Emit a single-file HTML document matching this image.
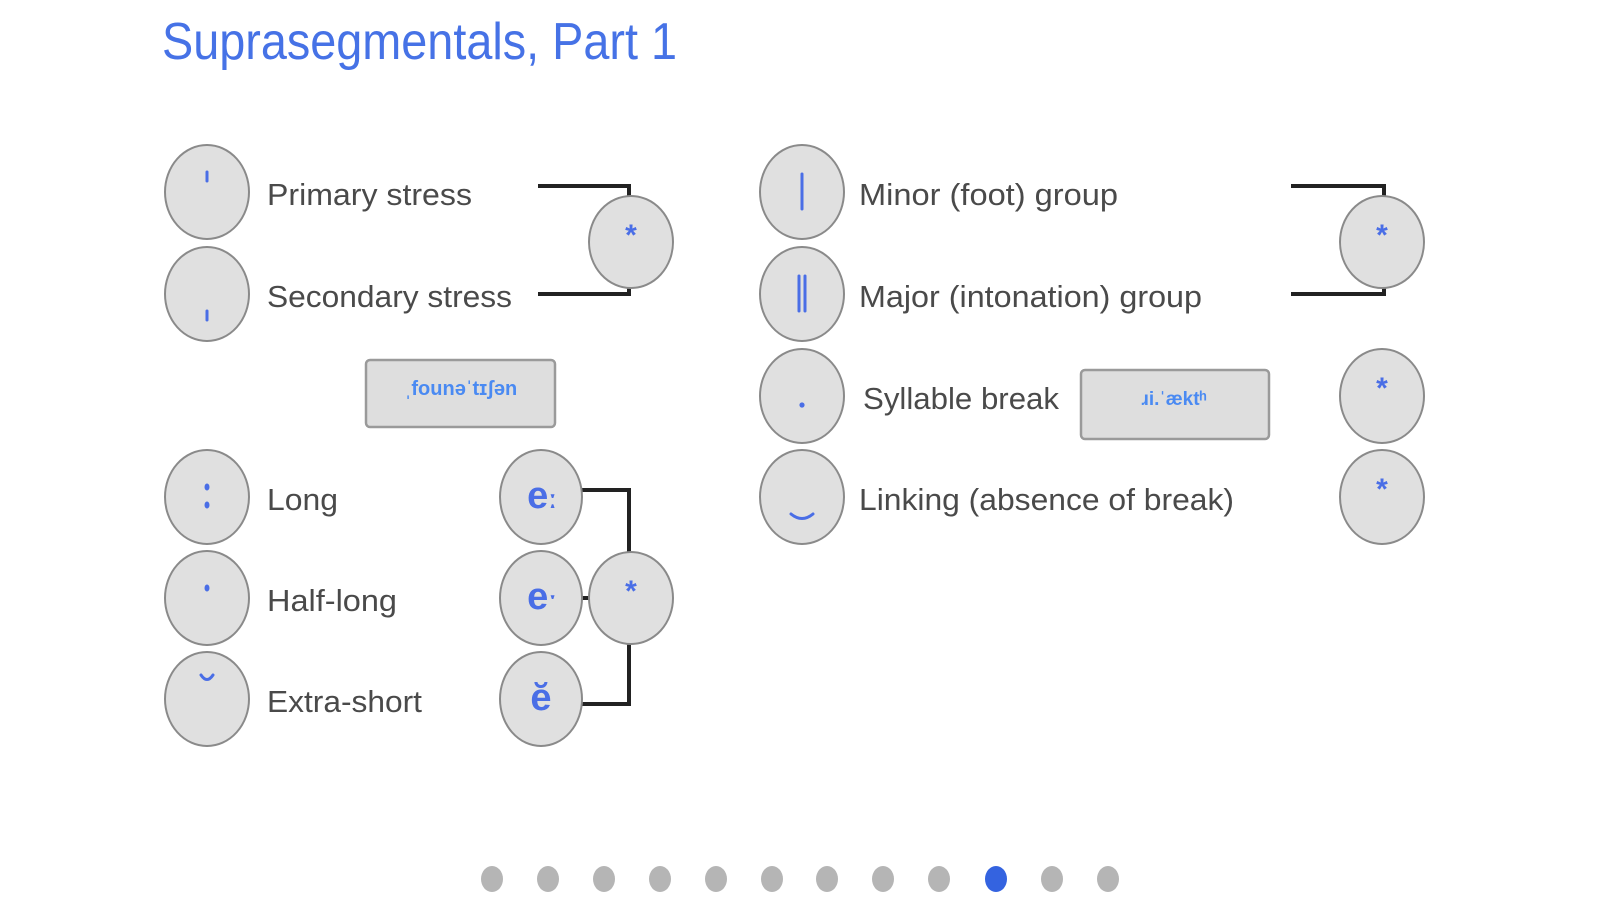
<!DOCTYPE html>
<html>
<head>
<meta charset="utf-8">
<style>
  html, body { margin: 0; padding: 0; background: #ffffff; }
  body { width: 1599px; height: 900px; overflow: hidden; }
  svg { display: block; }
  .c { fill: #e0e0e0; stroke: #8a8a8a; stroke-width: 2; }
  .lbl { font-family: "Liberation Sans", "DejaVu Sans", sans-serif; font-size: 31px; fill: #4a4a4a; }
  .sym { fill: none; stroke: #4a6ee6; stroke-width: 3; stroke-linecap: round; }
  .e { font-family: "Liberation Sans", "DejaVu Sans", sans-serif; font-size: 38px; font-weight: bold; fill: #4a6ee6; }
  .st { font-family: "Liberation Sans", "DejaVu Sans", sans-serif; font-size: 30px; font-weight: bold; fill: #4a6ee6; }
  .br { fill: none; stroke: #222222; stroke-width: 4; }
  .bx { fill: #dedede; stroke: #9a9a9a; stroke-width: 2.5; }
  .bt { font-family: "Liberation Sans", "DejaVu Sans", sans-serif; font-weight: bold; fill: #4a8af2; }
</style>
</head>
<body>
<svg width="1599" height="900" viewBox="0 0 1599 900" xmlns="http://www.w3.org/2000/svg">
  <rect width="1599" height="900" fill="#ffffff"/>

  <!-- Title -->
  <text x="162" y="59" font-family="Liberation Sans, DejaVu Sans, sans-serif" font-size="52" fill="#4672e6" textLength="515" lengthAdjust="spacingAndGlyphs">Suprasegmentals, Part 1</text>

  <!-- Left column circles -->
  <ellipse class="c" cx="207" cy="192" rx="42" ry="47"/>
  <ellipse class="c" cx="207" cy="294" rx="42" ry="47"/>
  <ellipse class="c" cx="207" cy="497" rx="42" ry="47"/>
  <ellipse class="c" cx="207" cy="598" rx="42" ry="47"/>
  <ellipse class="c" cx="207" cy="699" rx="42" ry="47"/>

  <!-- Left symbols -->
  <line class="sym" x1="207" y1="172" x2="207" y2="181"/>
  <line class="sym" x1="207" y1="311" x2="207" y2="320"/>
  <ellipse cx="207" cy="487" rx="2.5" ry="3.5" fill="#4a6ee6"/>
  <ellipse cx="207" cy="505" rx="2.5" ry="3.5" fill="#4a6ee6"/>
  <ellipse cx="207" cy="588" rx="2.5" ry="3.5" fill="#4a6ee6"/>
  <path class="sym" d="M201 675 Q207 684 213 675"/>

  <!-- Left labels -->
  <text class="lbl" x="267" y="205" textLength="205" lengthAdjust="spacingAndGlyphs">Primary stress</text>
  <text class="lbl" x="267" y="307" textLength="245" lengthAdjust="spacingAndGlyphs">Secondary stress</text>
  <text class="lbl" x="267" y="510" textLength="71" lengthAdjust="spacingAndGlyphs">Long</text>
  <text class="lbl" x="267" y="611" textLength="130" lengthAdjust="spacingAndGlyphs">Half-long</text>
  <text class="lbl" x="267" y="712" textLength="155" lengthAdjust="spacingAndGlyphs">Extra-short</text>

  <!-- Stress bracket + star -->
  <path class="br" d="M538 186 H629 V198"/>
  <path class="br" d="M538 294 H629 V286"/>
  <ellipse class="c" cx="631" cy="242" rx="42" ry="46"/>
  <text class="st" x="631" y="245" text-anchor="middle">*</text>

  <!-- Box 1 -->
  <rect class="bx" x="366" y="360" width="189" height="67" rx="4"/>
  <text class="bt" x="461" y="395" font-size="20" text-anchor="middle">ˌfounəˈtɪʃən</text>

  <!-- e circles and bracket -->
  <path class="br" d="M582 490 H629 V552"/>
  <path class="br" d="M629 644 V704 H582"/>
  <path class="br" d="M581 598 H590"/>
  <ellipse class="c" cx="541" cy="497" rx="41" ry="47"/>
  <ellipse class="c" cx="541" cy="598" rx="41" ry="47"/>
  <ellipse class="c" cx="541" cy="699" rx="41" ry="47"/>
  <ellipse class="c" cx="631" cy="598" rx="42" ry="46"/>
  <text class="e" x="542" y="508" text-anchor="middle">e<tspan font-size="26">ː</tspan></text>
  <text class="e" x="542" y="609" text-anchor="middle">e<tspan font-size="26">ˑ</tspan></text>
  <text class="e" x="541" y="710" text-anchor="middle">ĕ</text>
  <text class="st" x="631" y="601" text-anchor="middle">*</text>

  <!-- Right column circles -->
  <ellipse class="c" cx="802" cy="192" rx="42" ry="47"/>
  <ellipse class="c" cx="802" cy="294" rx="42" ry="47"/>
  <ellipse class="c" cx="802" cy="396" rx="42" ry="47"/>
  <ellipse class="c" cx="802" cy="497" rx="42" ry="47"/>

  <!-- Right symbols -->
  <line class="sym" x1="802" y1="174" x2="802" y2="209" stroke-linecap="butt"/>
  <line class="sym" x1="799" y1="276" x2="799" y2="311" stroke-linecap="butt"/>
  <line class="sym" x1="805" y1="276" x2="805" y2="311" stroke-linecap="butt"/>
  <circle cx="802" cy="405" r="2.6" fill="#4a6ee6"/>
  <path class="sym" d="M791 514 Q802 523 813 514"/>

  <!-- Right labels -->
  <text class="lbl" x="859" y="205" textLength="259" lengthAdjust="spacingAndGlyphs">Minor (foot) group</text>
  <text class="lbl" x="859" y="307" textLength="343" lengthAdjust="spacingAndGlyphs">Major (intonation) group</text>
  <text class="lbl" x="863" y="409" textLength="196" lengthAdjust="spacingAndGlyphs">Syllable break</text>
  <text class="lbl" x="859" y="510" textLength="375" lengthAdjust="spacingAndGlyphs">Linking (absence of break)</text>

  <!-- Box 2 -->
  <rect class="bx" x="1081" y="370" width="188" height="69" rx="4"/>
  <text class="bt" x="1174" y="405" font-size="19" text-anchor="middle">ɹi.ˈæktʰ</text>

  <!-- Right bracket + stars -->
  <path class="br" d="M1291 186 H1384 V198"/>
  <path class="br" d="M1291 294 H1384 V286"/>
  <ellipse class="c" cx="1382" cy="242" rx="42" ry="46"/>
  <ellipse class="c" cx="1382" cy="396" rx="42" ry="47"/>
  <ellipse class="c" cx="1382" cy="497" rx="42" ry="47"/>
  <text class="st" x="1382" y="245" text-anchor="middle">*</text>
  <text class="st" x="1382" y="398" text-anchor="middle">*</text>
  <text class="st" x="1382" y="499" text-anchor="middle">*</text>

  <!-- Pagination dots -->
  <g fill="#b5b5b5">
    <ellipse cx="492" cy="879" rx="11" ry="13"/>
    <ellipse cx="548" cy="879" rx="11" ry="13"/>
    <ellipse cx="604" cy="879" rx="11" ry="13"/>
    <ellipse cx="660" cy="879" rx="11" ry="13"/>
    <ellipse cx="716" cy="879" rx="11" ry="13"/>
    <ellipse cx="772" cy="879" rx="11" ry="13"/>
    <ellipse cx="827" cy="879" rx="11" ry="13"/>
    <ellipse cx="883" cy="879" rx="11" ry="13"/>
    <ellipse cx="939" cy="879" rx="11" ry="13"/>
    <ellipse cx="1052" cy="879" rx="11" ry="13"/>
    <ellipse cx="1108" cy="879" rx="11" ry="13"/>
  </g>
  <ellipse cx="996" cy="879" rx="11" ry="13" fill="#3463e0"/>
</svg>
</body>
</html>
